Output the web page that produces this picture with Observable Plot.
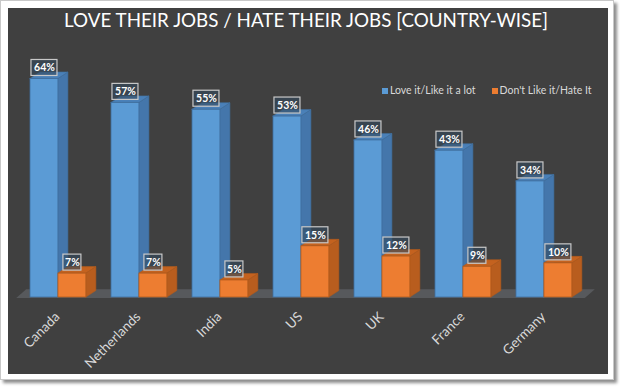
<!DOCTYPE html>
<html><head><meta charset="utf-8">
<script src="https://cdn.jsdelivr.net/npm/d3@7"></script>
<script src="https://cdn.jsdelivr.net/npm/@observablehq/plot@0.6"></script>
<style>
html,body{margin:0;padding:0;background:#fff;width:620px;height:387px;overflow:hidden;font-family:Lato,"Open Sans",sans-serif}
#card{position:absolute;left:0;top:0;width:612px;height:378px;background:#fff;border:1px solid #c8c8c8;box-shadow:3px 3px 3px rgba(0,0,0,0.45)}
#panel{position:absolute;left:8px;top:8px;width:600px;height:366px;background:#404040}
#title{position:absolute;left:-2px;top:0px;width:600px;text-align:center;color:#fff;font-size:18.8px;line-height:24px;white-space:nowrap}
#legend{position:absolute;left:374px;top:76px;display:flex;gap:16px;color:#d9d9d9;font-size:10.5px;line-height:12px;white-space:nowrap}
#legend span.sw{display:inline-block;width:6px;height:6px;margin-right:2px;vertical-align:0px}
#chart{position:absolute;left:0;top:0}
</style></head>
<body>
<div id="card"></div>
<div id="panel"><div id="chart"></div><div id="title"></div><div id="legend"></div></div>
<script>
const titleText = "LOVE THEIR JOBS / HATE THEIR JOBS [COUNTRY-WISE]";
const countries = ["Canada","Netherlands","India","US","UK","France","Germany"];
const loveIt = [64,57,55,53,46,43,34];
const hateIt = [7,7,5,15,12,9,10];
const seriesNames = ["Love it/Like it a lot","Don't Like it/Hate It"];
const frontColors = ["#5b9bd5","#ed7d31"];
const sideColors = ["#4476ab","#b85d1e"];
const topColors = ["#4a80b8","#c4621f"];
const edgeColors = ["#3f6e9e","#b05a1c"];

const W = 0.345;   // bar width in category units
const D = 0.123;   // depth offset (x)
const DZ = 1.9;    // depth offset (y)

const bars = [];
countries.forEach((c,i)=>{
  [loveIt[i], hateIt[i]].forEach((v,s)=>{
    const x1 = i + s*W;
    bars.push({id:`${c}-${s}`, country:c, s, v, x1, x2:x1+W, label:`${v}%`});
  });
});
const sides = bars.flatMap(b=>[
  {id:b.id, s:b.s, x:b.x2, y1:0, y2:b.v},
  {id:b.id, s:b.s, x:b.x2+D, y1:DZ, y2:b.v+DZ}
]);
const tops = bars.flatMap(b=>[
  {id:b.id, s:b.s, x:b.x1, y1:b.v, y2:b.v},
  {id:b.id, s:b.s, x:b.x1+D, y1:b.v, y2:b.v+DZ},
  {id:b.id, s:b.s, x:b.x2, y1:b.v, y2:b.v+DZ},
  {id:b.id, s:b.s, x:b.x2+D, y1:b.v+DZ, y2:b.v+DZ}
]);
const xa = -0.17, xb = countries.length - 1 + 2*W + 0.16;
const floor = [
  {x:xa, y1:-0.3, y2:-0.3},
  {x:xa+D, y1:-0.3, y2:DZ+0.4},
  {x:xb, y1:-0.3, y2:DZ+0.4},
  {x:xb+D, y1:DZ+0.4, y2:DZ+0.4}
];
const cat = countries.map((c,i)=>({c, x:i+W}));
const sColor = (arr)=> d=>arr[d.s];

const chart = Plot.plot({
  width:600, height:366,
  marginTop:50, marginBottom:77, marginLeft:0, marginRight:0,
  x:{type:"linear", domain:[-0.2716, 7.136], axis:null},
  y:{domain:[0,70], axis:null},
  style:{background:"transparent", overflow:"visible", fontFamily:"Lato, sans-serif"},
  marks:[
    Plot.areaY(floor, {x:"x", y1:"y1", y2:"y2", fill:"#57595c", curve:"linear"}),
    Plot.areaY(sides, {x:"x", y1:"y1", y2:"y2", z:"id", fill:sColor(sideColors), stroke:sColor(edgeColors), strokeWidth:0.6, curve:"linear"}),
    Plot.areaY(tops, {x:"x", y1:"y1", y2:"y2", z:"id", fill:sColor(topColors), stroke:sColor(edgeColors), strokeWidth:0.6, curve:"linear"}),
    Plot.rect(bars, {x1:"x1", x2:"x2", y1:0, y2:"v", fill:sColor(frontColors), stroke:sColor(edgeColors), strokeWidth:0.8}),
    Plot.rect(bars.filter(b=>b.label.length>2), {x1:b=>b.x1+W/2, x2:b=>b.x1+W/2, y1:"v", y2:"v", insetLeft:-13, insetRight:-13, insetTop:-16, insetBottom:0, dy:-3, fill:"#34495e", fillOpacity:0.6, stroke:"#c8c8c8", strokeWidth:1.2}),
    Plot.rect(bars.filter(b=>b.label.length<=2), {x1:b=>b.x1+W/2, x2:b=>b.x1+W/2, y1:"v", y2:"v", insetLeft:-9, insetRight:-9, insetTop:-16, insetBottom:0, dy:-3, fill:"#34495e", fillOpacity:0.6, stroke:"#c8c8c8", strokeWidth:1.2}),
    Plot.text(bars, {x:b=>b.x1+W/2, y:"v", text:"label", dy:-11, fill:"#fff", fontWeight:"bold", fontSize:10.5}),
    Plot.text(cat, {x:"x", y:0, text:"c", rotate:-45, textAnchor:"end", dy:17, dx:-1, fill:"#d9d9d9", fontSize:13.5})
  ]
});
document.getElementById("chart").appendChild(chart);
document.getElementById("title").textContent = titleText;
const lg = document.getElementById("legend");
seriesNames.forEach((n,i)=>{
  const it = document.createElement("span");
  it.innerHTML = `<span class="sw" style="background:${frontColors[i]}"></span>`;
  it.appendChild(document.createTextNode(n));
  lg.appendChild(it);
});
</script>
</body></html>
